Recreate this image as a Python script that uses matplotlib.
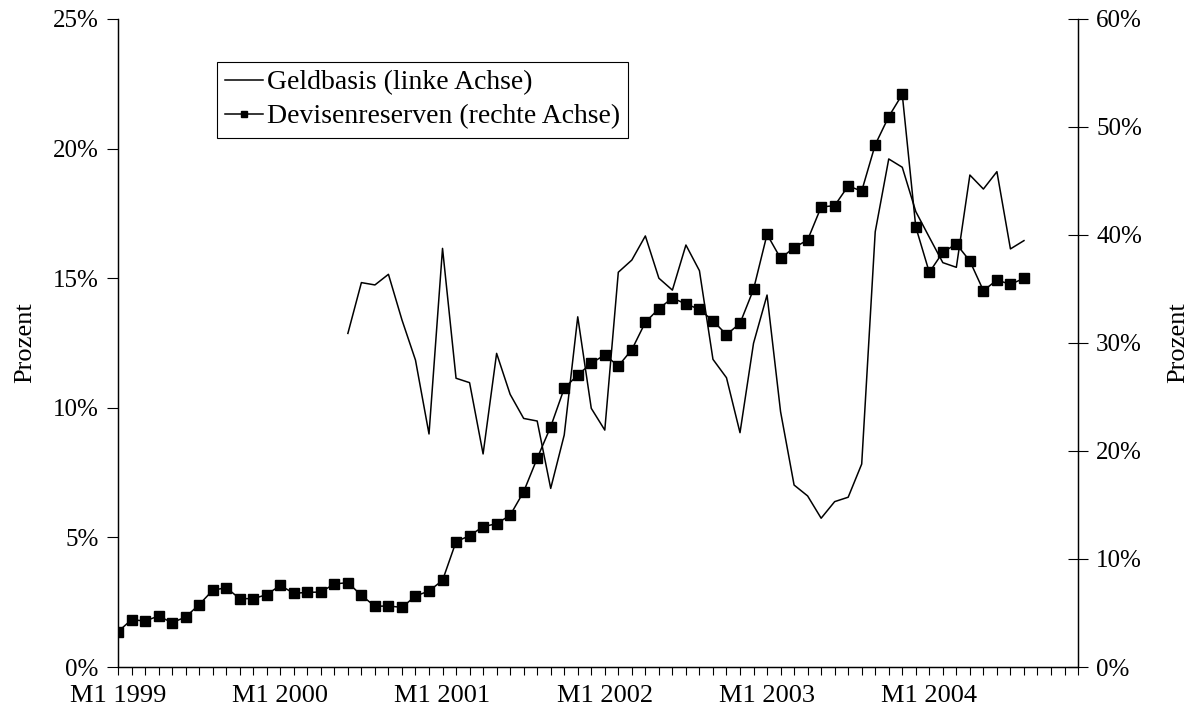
import numpy as np
import matplotlib
matplotlib.use("Agg")
import matplotlib.pyplot as plt
from matplotlib.ticker import FuncFormatter

plt.rcParams['font.family'] = ['Liberation Serif', 'DejaVu Serif']

# monthly categories M1 1999 .. M12 2004
years = [1999, 2000, 2001, 2002, 2003, 2004]
months = [f"M{m} {y}" for y in years for m in range(1, 13)]
tick_labels = [lab if lab.startswith("M1 ") else "" for lab in months]

# Devisenreserven (right axis, %), M1 1999 .. M8 2004
devisen = [3.27, 4.38, 4.26, 4.72, 4.10, 4.63, 5.77, 7.10, 7.35, 6.33,
           6.33, 6.70, 7.56, 6.82, 6.91, 6.94, 7.69, 7.81, 6.64, 5.62,
           5.65, 5.52, 6.57, 7.04, 8.02, 11.60, 12.16, 12.99, 13.27, 14.05,
           16.23, 19.32, 22.25, 25.80, 27.04, 28.12, 28.90, 27.87, 29.38, 31.92,
           33.18, 34.17, 33.61, 33.12, 32.06, 30.77, 31.82, 34.97, 40.06, 37.84,
           38.83, 39.54, 42.59, 42.72, 44.54, 44.07, 48.36, 50.96, 53.02, 40.74,
           36.54, 38.40, 39.17, 37.59, 34.85, 35.83, 35.43, 35.99]

# Geldbasis (left axis, %), M6 2000 .. M8 2004
geld_start = 17
geldbasis = [12.87, 14.83, 14.74, 15.15, 13.39, 11.84, 8.99, 16.15, 11.14, 10.97,
             8.22, 12.10, 10.52, 9.59, 9.49, 6.89, 8.95, 13.51, 9.98, 9.14,
             15.23, 15.70, 16.63, 15.00, 14.54, 16.28, 15.29, 11.87, 11.16, 9.04,
             12.49, 14.35, 9.85, 7.02, 6.60, 5.74, 6.38, 6.55, 7.83, 16.79,
             19.60, 19.28, 17.57, 16.58, 15.60, 15.42, 18.98, 18.44, 19.11, 16.13,
             16.45]

x_dev = np.arange(len(devisen))
x_geld = np.arange(geld_start, geld_start + len(geldbasis))

fs = 19

fig = plt.figure(figsize=(11.92, 7.25), dpi=100)
ax = fig.add_axes([0.099, 0.08, 0.8054, 0.8938])
ax2 = ax.twinx()

l1, = ax.plot(x_geld, geldbasis, color='black', lw=1.1)
l2, = ax2.plot(x_dev, devisen, color='black', lw=1.1, marker='s',
               markersize=7, markeredgewidth=1, markerfacecolor='black',
               markeredgecolor='black')

ax.set_xlim(0, len(months) - 1)
ax.set_ylim(0, 25)
ax2.set_ylim(0, 60)

ax.set_xticks(np.arange(len(months)))
ax.set_xticklabels(tick_labels, fontsize=fs)
ax.tick_params(axis='x', direction='out', length=6, width=0.8, pad=7)
ax.set_yticks([0, 5, 10, 15, 20, 25])
ax.yaxis.set_major_formatter(FuncFormatter(lambda v, p: f"{v:.0f}%"))
ax.tick_params(axis='y', direction='out', length=8, width=0.8, labelsize=18, pad=6)
ax2.set_yticks([0, 10, 20, 30, 40, 50, 60])
ax2.yaxis.set_major_formatter(FuncFormatter(lambda v, p: f"{v:.0f}%"))
ax2.tick_params(axis='y', direction='inout', length=14, width=0.8, labelsize=18, pad=6)

ax.set_ylabel('Prozent', fontsize=fs, labelpad=12)
ax2.set_ylabel('Prozent', fontsize=fs, rotation=90, labelpad=18)

for a in (ax, ax2):
    a.spines['top'].set_visible(False)
    for s in ('left', 'right', 'bottom'):
        a.spines[s].set_linewidth(0.9)
        a.spines[s].set_color('black')

leg = ax2.legend([l1, l2], ['Geldbasis (linke Achse)', 'Devisenreserven (rechte Achse)'],
                 loc='upper left', bbox_to_anchor=(0.103, 0.934), fontsize=20,
                 fancybox=False, framealpha=1, edgecolor='black', handlelength=1.35,
                 handletextpad=0.15, borderpad=0.3, labelspacing=0.3, markerscale=0.6,
                 borderaxespad=0)
leg.get_frame().set_linewidth(0.8)

fig.savefig('out.png', dpi=100)
